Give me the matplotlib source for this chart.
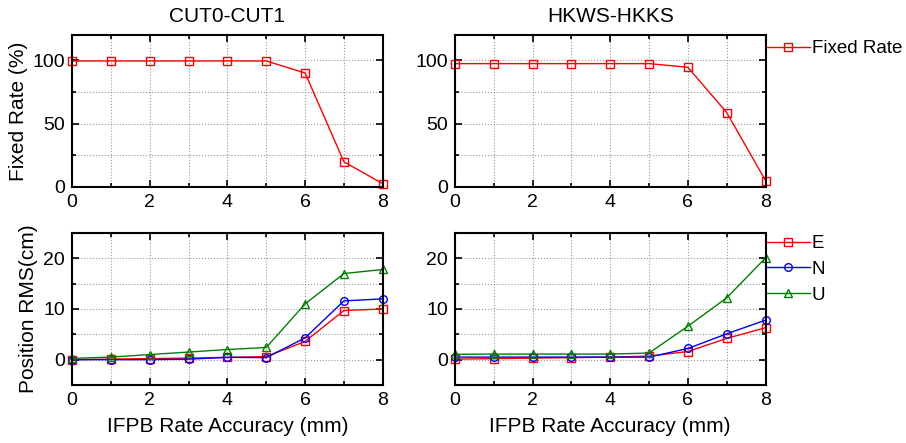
import matplotlib
matplotlib.use("Agg")
import matplotlib.pyplot as plt
from matplotlib.ticker import MultipleLocator

plt.rcParams['font.family'] = ['Liberation Sans', 'DejaVu Sans']

# 数据
acc = [0, 1, 2, 3, 4, 5, 6, 7, 8]
titles = ["CUT0-CUT1", "HKWS-HKKS"]

fix_cut = [99.5, 99.5, 99.5, 99.5, 99.5, 99.5, 90.0, 19.8, 2.6]
fix_hk = [97.4, 97.4, 97.4, 97.4, 97.4, 97.4, 94.5, 58.7, 5.0]

e_cut = [0.0, 0.1, 0.2, 0.3, 0.45, 0.6, 3.6, 9.7, 10.0]
n_cut = [0.0, 0.0, 0.0, 0.1, 0.45, 0.4, 4.3, 11.6, 12.0]
u_cut = [0.26, 0.5, 1.0, 1.5, 2.0, 2.4, 11.0, 17.0, 17.8]

e_hk = [0.1, 0.2, 0.3, 0.4, 0.5, 0.7, 1.6, 4.2, 6.3]
n_hk = [0.5, 0.5, 0.5, 0.5, 0.5, 0.5, 2.2, 5.1, 7.8]
u_hk = [1.05, 1.1, 1.1, 1.1, 1.1, 1.3, 6.6, 12.2, 20.1]

fig = plt.figure(figsize=(9.06, 4.43), dpi=100)

w, h = 0.343, 0.343
lefts = [0.0795, 0.502]
top_b, bot_b = 0.578, 0.131

mk = dict(markerfacecolor="none", markersize=5.5, linewidth=1, markeredgewidth=1)


def style(ax, ymaj, ymin, ylim):
    ax.set_xlim(0, 8)
    ax.set_ylim(*ylim)
    ax.xaxis.set_major_locator(MultipleLocator(2))
    ax.xaxis.set_minor_locator(MultipleLocator(1))
    ax.yaxis.set_major_locator(MultipleLocator(ymaj))
    ax.yaxis.set_minor_locator(MultipleLocator(ymin))
    ax.grid(True, which="both", color="#999999", linestyle=":", linewidth=0.8)
    ax.tick_params(which="both", direction="in", top=True, right=True,
                   labelsize=14, width=1.2, pad=5)
    ax.tick_params(which="major", length=5)
    ax.tick_params(which="minor", length=3)
    for s in ax.spines.values():
        s.set_linewidth(1.5)
    ax.set_axisbelow(True)


fixes = [fix_cut, fix_hk]
rms = [(e_cut, n_cut, u_cut), (e_hk, n_hk, u_hk)]
leg = dict(loc="upper left", frameon=False, fontsize=13.5, handlelength=2.3,
           handletextpad=0.1, borderaxespad=0, borderpad=0)

for i in range(2):
    ax = fig.add_axes([lefts[i], top_b, w, h])
    ax.plot(acc, fixes[i], color="red", marker="s", label="Fixed Rate", clip_on=False, **mk)
    style(ax, 50, 25, (0, 120))
    ax.set_title(titles[i], fontsize=15, pad=9)
    if i == 0:
        ax.set_ylabel("Fixed Rate (%)", fontsize=15, labelpad=3)
    else:
        ax.legend(bbox_to_anchor=(1.003, 0.965), **leg)

    ax2 = fig.add_axes([lefts[i], bot_b, w, h])
    e, n, u = rms[i]
    ax2.plot(acc, e, color="red", marker="s", label="E", clip_on=False, **mk)
    ax2.plot(acc, n, color="blue", marker="o", label="N", clip_on=False, **mk)
    ax2.plot(acc, u, color="green", marker="^", label="U", clip_on=False, **mk)
    style(ax2, 10, 5, (-5, 25))
    ax2.set_xlabel("IFPB Rate Accuracy (mm)", fontsize=15, labelpad=6)
    if i == 0:
        ax2.set_ylabel("Position RMS(cm)", fontsize=15, labelpad=4)
    else:
        ax2.legend(bbox_to_anchor=(1.003, 0.985), labelspacing=0.45, **leg)

plt.savefig("out.png", dpi=100)
